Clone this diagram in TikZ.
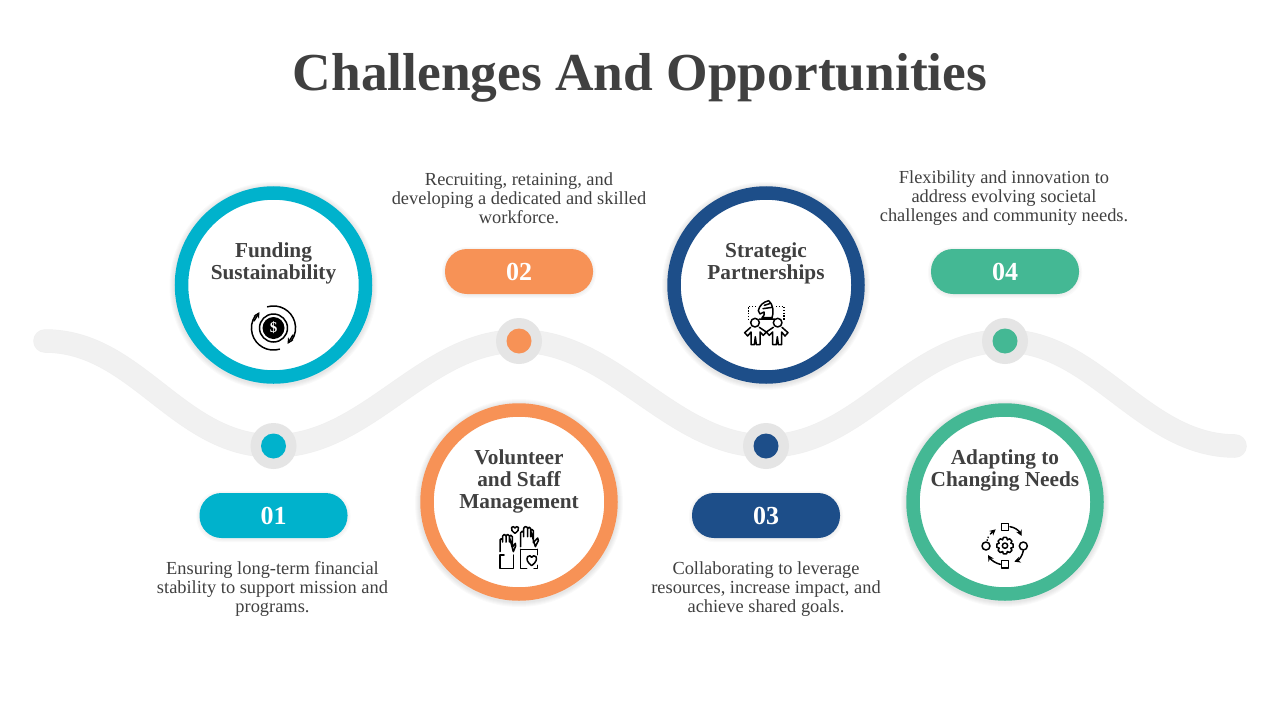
\documentclass[tikz,border=0pt]{standalone}
\usepackage{fontspec}
\setmainfont{Liberation Serif}
\usetikzlibrary{arrows.meta}
\definecolor{inkgray}{HTML}{404040}
\definecolor{cyanstep}{HTML}{00B2CC}
\definecolor{orangestep}{HTML}{F79256}
\definecolor{navystep}{HTML}{1D4E89}
\definecolor{greenstep}{HTML}{44B894}
\tikzset{
  titletext/.style={text=inkgray,font=\fontsize{53.4}{60}\selectfont\bfseries},
  headtext/.style={text=inkgray,align=center,font=\fontsize{21.3}{22}\selectfont\bfseries},
  desctext/.style={text=inkgray,align=center,font=\fontsize{18.4}{19}\selectfont},
  pilltext/.style={text=white,font=\fontsize{26}{30}\selectfont\bfseries},
  ringnode/.style={circle,draw=#1,line width=13.5pt,fill=white,minimum size=184pt,inner sep=0pt},
  pillnode/.style={rectangle,rounded corners=22pt,fill=#1,minimum width=148pt,minimum height=45pt,inner sep=0pt},
  halonode/.style={circle,fill=black!10,minimum size=46pt,inner sep=0pt},
  dotnode/.style={circle,fill=#1,minimum size=25pt,inner sep=0pt},
  iconline/.style={line width=1.5pt,black,line cap=round,line join=round},
  icondots/.style={line width=1.3pt,black,dash pattern=on 1.4pt off 1.4pt},
  softshadow/.style={black,opacity=.018},
}
\begin{document}
\begin{tikzpicture}[x=1pt,y=-1pt]
\useasboundingbox (0,0) rectangle (1280,720);
\fill[white] (0,0) rectangle (1280,720);
%wave
\draw[line width=23.5pt,line cap=round,black!6] (45,341) .. controls (137,341) and (178,446) .. (273.5,446) .. controls (368,446) and (424,341) .. (519,341) .. controls (614,341) and (671,446) .. (766,446) .. controls (861,446) and (910,341) .. (1005,341) .. controls (1095,341) and (1143,446) .. (1235,446);
\draw[line width=22.5pt,line cap=round,black!5.5] (45,341) .. controls (137,341) and (178,446) .. (273.5,446) .. controls (368,446) and (424,341) .. (519,341) .. controls (614,341) and (671,446) .. (766,446) .. controls (861,446) and (910,341) .. (1005,341) .. controls (1095,341) and (1143,446) .. (1235,446);
%soft shadows
\foreach \cx/\cy in {273.5/285,519/502,766/285,1005/502}{
  \foreach \rr in {104,103,102,101,100}{
    \fill[softshadow] (\cx,\cy+1) circle(\rr);
  }
}
\foreach \cx/\cy in {273.5/515.5,519/271.5,766/515.5,1005/271.5}{
  \foreach \rr in {3,2,1}{
    \fill[softshadow,rounded corners=24pt] (\cx-74-\rr,\cy-22.5-\rr+1) rectangle (\cx+74+\rr,\cy+22.5+\rr+1);
  }
}
%title
\node[titletext] (title) at (640,78) {Challenges And Opportunities};
%rings
\node[ringnode=cyanstep] (ringa) at (273.5,285) {};
\node[ringnode=orangestep] (ringb) at (519,502) {};
\node[ringnode=navystep] (ringc) at (766,285) {};
\node[ringnode=greenstep] (ringd) at (1005,502) {};
%ring headings
\node[headtext] (heada) at (273.5,263) {Funding\\Sustainability};
\node[headtext] (headb) at (519,481) {Volunteer\\and Staff\\Management};
\node[headtext] (headc) at (766,263) {Strategic\\Partnerships};
\node[headtext] (headd) at (1005,470) {Adapting to\\Changing Needs};
%pills
\node[pillnode=cyanstep,pilltext] (pilla) at (273.5,515.5) {01};
\node[pillnode=orangestep,pilltext] (pillb) at (519,271.5) {02};
\node[pillnode=navystep,pilltext] (pillc) at (766,515.5) {03};
\node[pillnode=greenstep,pilltext] (pilld) at (1005,271.5) {04};
%dots
\node[halonode] (haloa) at (273.5,446) {};
\node[halonode] (halob) at (519,341) {};
\node[halonode] (haloc) at (766,446) {};
\node[halonode] (halod) at (1005,341) {};
\node[dotnode=cyanstep] (dota) at (haloa) {};
\node[dotnode=orangestep] (dotb) at (halob) {};
\node[dotnode=navystep] (dotc) at (haloc) {};
\node[dotnode=greenstep] (dotd) at (halod) {};
%descriptions
\node[desctext] (desca) at (272.5,589) {Ensuring long-term financial\\stability to support mission and\\programs.};
\node[desctext] (descb) at (519,198) {Recruiting, retaining, and\\developing a dedicated and skilled\\workforce.};
\node[desctext] (descc) at (766,589) {Collaborating to leverage\\resources, increase impact, and\\achieve shared goals.};
\node[desctext] (descd) at (1004,198) {Flexibility and innovation to\\address evolving societal\\challenges and community needs.};
%icon money
\begin{scope}[shift={(273.5,328)}]
\draw[iconline] (-6,-21.2) arc(-106:35:22);
\draw[iconline] (6,21.2) arc(74:215:22);
\draw[iconline,-{Stealth[length=6pt,width=6pt]}] (-19.5,-7) -- (-14,-16);
\draw[iconline,-{Stealth[length=6pt,width=6pt]}] (19.5,7) -- (14,16);
\draw[iconline] (0,0) circle(14);
\fill[black] (0,0) circle(11);
\node[text=white,font=\fontsize{15}{15}\selectfont\bfseries] (dollar) at (0,0) {\$};
\end{scope}
%icon partners
\begin{scope}[shift={(720,280)},scale=1/3]
\draw[iconline] (105,128) circle(13);
\draw[iconline] (173,128) circle(13);
\draw[iconline] (92,142) -- (74,158) -- (83,168) -- (93,156) -- (93,194) -- (103,194) -- (106,170) -- (109,194) -- (120,194) -- (120,156) -- (130,166) -- (139,156) -- (118,142);
\draw[iconline] (186,142) -- (204,158) -- (195,168) -- (185,156) -- (185,194) -- (175,194) -- (172,170) -- (169,194) -- (158,194) -- (158,156) -- (148,166) -- (139,156) -- (160,142);
%knight
\draw[iconline] (118,117) -- (163,117) (126,113) .. controls (134,105) and (134,100) .. (132,96) -- (120,102) -- (115,92) .. controls (118,76) and (130,66) .. (146,62) .. controls (160,72) and (162,100) .. (156,113) -- cycle;
\draw[iconline] (133,76) -- (152,70) (129,86) -- (157,82);
\draw[icondots] (108,80) -- (85,80) -- (85,120);
\draw[icondots] (168,80) -- (192,80) -- (192,120);
\end{scope}
%icon hands
\begin{scope}[shift={(480,510)},scale=1/3]
%left hand
\draw[iconline] (60,125) -- (60,90) arc(180:360:4) -- (68,96) (68,90) -- (68,78) arc(180:360:5) -- (78,96) (78,78) arc(180:360:5) -- (88,96) (88,80) arc(180:360:4.5) -- (97,112) -- (106,100) -- (107,108) -- (100,125) -- cycle;
\draw[iconline] (60,135) -- (60,175) -- (100,175) -- (100,135);
\draw[iconline] (60,135) -- (72,135);
%right hand
\draw[iconline] (122,110) -- (122,68) arc(180:360:4.5) -- (131,80) (131,68) -- (131,56) arc(180:360:6) -- (143,80) (143,56) arc(180:360:4.5) -- (152,80) (152,62) arc(180:360:4) -- (160,98) -- (173,84) -- (175,92) -- (166,110) -- cycle;
\draw[iconline] (122,118) -- (122,175) -- (140,175) (172,118) -- (172,134) (172,166) -- (172,175) -- (162,175) (122,118) -- (172,118);
%hearts
\draw[iconline] (155,167) .. controls (142,157) and (138,148) .. (143,140) .. controls (147,135) and (153,137) .. (155,142) .. controls (158,137) and (164,135) .. (168,140) .. controls (172,148) and (168,157) .. (155,167) -- cycle;
\draw[iconline] (105,70) .. controls (97,64) and (91,58) .. (95,52) .. controls (98,48) and (103,50) .. (105,54) .. controls (107,50) and (112,48) .. (115,52) .. controls (119,58) and (113,64) .. (105,70) -- cycle;
\end{scope}
%icon gear
\begin{scope}[shift={(965,510)},scale=1/3]
\draw[iconline] (109,40) rectangle (131,62);
\draw[iconline] (109,152) rectangle (131,174);
\draw[iconline] (63,108) circle(12);
\draw[iconline] (175,108) circle(12);
\draw[iconline,-{Stealth[length=6pt,width=6pt]}] (135,50) .. controls (150,52) and (162,62) .. (170,78);
\draw[iconline,-{Stealth[length=6pt,width=6pt]}] (175,122) .. controls (172,138) and (162,150) .. (148,155);
\draw[iconline,-{Stealth[length=6pt,width=6pt]}] (106,163) .. controls (92,160) and (78,150) .. (69,135);
\draw[icondots] (66,92) -- (71,78);
\draw[iconline,-{Stealth[length=6pt,width=6pt]}] (76,72) -- (92,58);
\draw[iconline] (120,107) circle(8);
\begin{scope}[shift={(120,107)}]
\foreach \a in {0,45,...,315}{
  \draw[iconline] (\a-23:19) -- (\a-11:25) -- (\a+11:25) -- (\a+23:19);
}
\end{scope}
\end{scope}
\end{tikzpicture}
\end{document}
